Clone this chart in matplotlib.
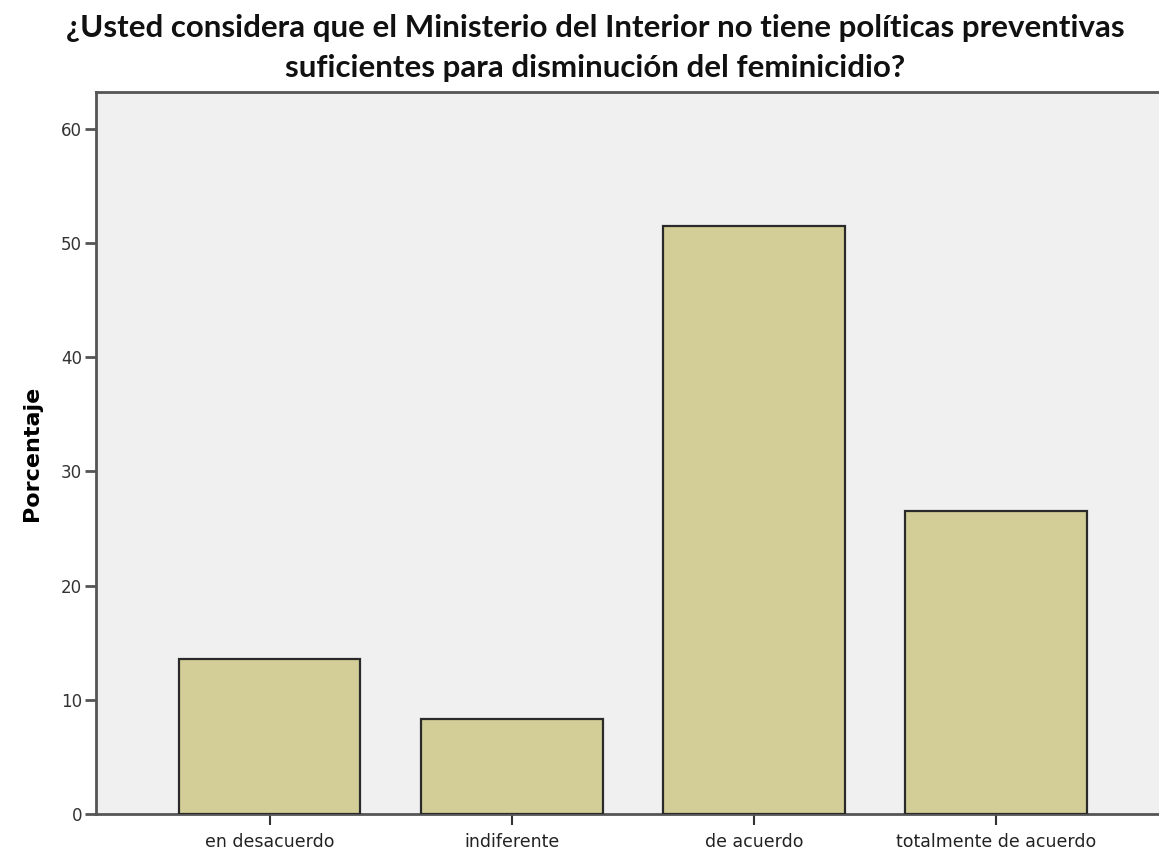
import matplotlib
matplotlib.use("Agg")
import matplotlib.pyplot as plt

categories = ["en desacuerdo", "indiferente", "de acuerdo", "totalmente de acuerdo"]
values = [13.6, 8.3, 51.5, 26.5]
yticks = [0, 10, 20, 30, 40, 50, 60]

fig = plt.figure(figsize=(11.59, 8.52), dpi=100)
ax = fig.add_axes([96/1159, 1-814/852, 1-96/1159 + 0.01, (814-92)/852])
ax.set_facecolor("#F0F0F0")

x = list(range(len(categories)))
ax.bar(x, values, width=0.75, color="#D3CE97", edgecolor="#2a2a2a", linewidth=1.6, zorder=3)

ax.set_xlim(-0.717, 3.72)
ax.set_ylim(0, 63.2)
ax.set_yticks(yticks)
ax.set_yticklabels([str(t) for t in yticks], fontsize=12, color="#333333", family="DejaVu Sans")
ax.set_xticks(x)
ax.set_xticklabels(categories, fontsize=12.5, color="#222222", family="DejaVu Sans")
ax.tick_params(axis="y", direction="out", length=8, width=2, color="#555555", pad=2)
ax.tick_params(axis="x", direction="out", length=8, width=1.5, color="#333333", pad=6)

for s in ["left", "bottom", "top"]:
    ax.spines[s].set_linewidth(2)
    ax.spines[s].set_color("#555555")
ax.spines["right"].set_visible(False)

ax.set_ylabel("Porcentaje", fontsize=16, fontweight="bold", family="DejaVu Sans", labelpad=14)

fig.text(595/1159, 1 - 14/852, "¿Usted considera que el Ministerio del Interior no tiene políticas preventivas\nsuficientes para disminución del feminicidio?",
         ha="center", va="top", fontsize=22.5, fontweight="bold", family="Lato", linespacing=1.5, color="#111111")

fig.savefig("out.png", dpi=100)
